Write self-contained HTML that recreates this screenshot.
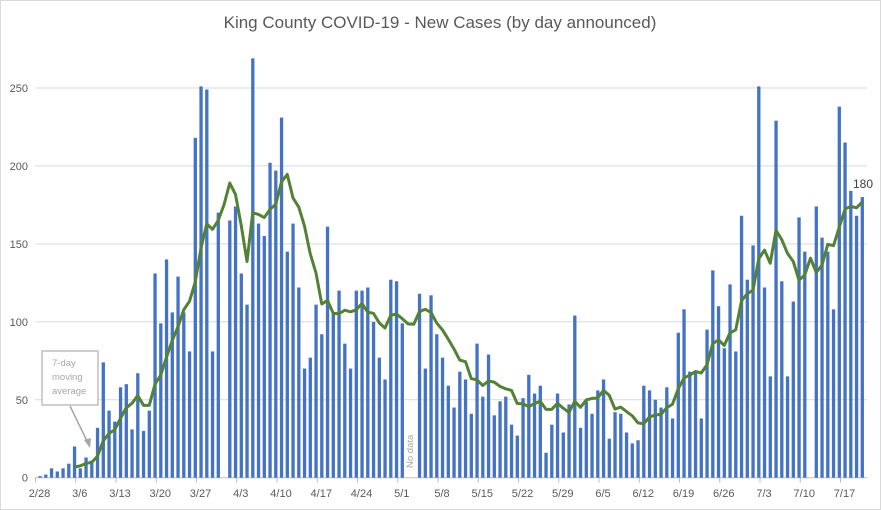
<!DOCTYPE html>
<html><head><meta charset="utf-8"><style>
body{margin:0;background:#fff;}
svg{display:block;font-family:"Liberation Sans",sans-serif;}
</style></head><body>
<svg id="c" width="881" height="510" xmlns="http://www.w3.org/2000/svg">
<rect x="0.5" y="0.5" width="880" height="509" fill="#fff" stroke="#d9d9d9"/>
<text x="440" y="28" text-anchor="middle" font-size="17" fill="#595959">King County COVID-19 - New Cases (by day announced)</text>
<g id="grid"></g>
<g id="bars"></g>
<g id="lbl"></g>
<rect x="42" y="351" width="56" height="54" fill="#fff" stroke="#bfbfbf" stroke-width="1.5"/>
<text font-size="9.5" fill="#a6a6a6"><tspan x="52" y="366">7-day</tspan><tspan x="52" y="380">moving</tspan><tspan x="52" y="394">average</tspan></text>
<line x1="70" y1="406" x2="88" y2="443" stroke="#a6a6a6" stroke-width="1.5"/>
<polygon points="90,448 84,440 91,438" fill="#a6a6a6"/>
<text transform="translate(413,468) rotate(-90)" font-size="9.5" fill="#a6a6a6">No data</text>
<text x="853" y="188" font-size="12" fill="#404040">180</text>
</svg>
<script>
var v=[1,2,6,4,6,9,20,6,13,11,32,74,43,36,58,60,31,67,30,43,131,99,140,106,129,106,81,218,251,249,81,170,null,165,174,131,111,269,163,155,202,197,231,145,163,122,70,77,111,92,161,105,120,86,70,120,120,122,100,77,63,127,126,99,null,null,118,70,117,92,77,59,45,68,63,41,86,52,79,40,49,52,34,27,51,66,54,59,16,34,54,29,47,104,32,49,41,56,63,25,42,41,29,22,24,59,56,50,45,58,38,93,108,68,67,38,95,133,110,83,124,81,168,127,149,251,122,65,229,126,65,113,167,145,null,174,154,145,108,238,215,184,168,180];
var NS="http://www.w3.org/2000/svg";
function el(t,a,p){var e=document.createElementNS(NS,t);for(var k in a)e.setAttribute(k,a[k]);document.getElementById(p).appendChild(e);return e;}
var y0=477.7,s=1.559,x0=40,st=5.75;
for(var i=0;i<=5;i++){var y=y0-i*50*s;el("line",{x1:35,x2:867,y1:y,y2:y,stroke:i==0?"#bfbfbf":"#d9d9d9","stroke-width":1},"grid");
var t=el("text",{x:28,y:y+4,"text-anchor":"end","font-size":11,fill:"#595959"},"lbl");t.textContent=i*50;}
var labs=["2/28","3/6","3/13","3/20","3/27","4/3","4/10","4/17","4/24","5/1","5/8","5/15","5/22","5/29","6/5","6/12","6/19","6/26","7/3","7/10","7/17"];
for(var k=0;k<labs.length;k++){var x=35.5+k*40.25;el("line",{x1:x,x2:x,y1:y0,y2:y0+5,stroke:"#bfbfbf"},"grid");
var t=el("text",{x:x+4,y:497,"text-anchor":"middle","font-size":11,fill:"#595959"},"lbl");t.textContent=labs[k];}
var pts=[];
for(var d=0;d<v.length;d++){var x=x0+d*st;if(v[d]!=null){var h=v[d]*s;el("rect",{x:x-1.6,y:y0-h,width:3.3,height:h,fill:"#4472c4"},"bars");}
if(d>=6){var sum=0,n=0;for(var j=d-6;j<=d;j++)if(v[j]!=null){sum+=v[j];n++;}pts.push(x+","+(y0-sum/n*s));}}
el("polyline",{points:pts.join(" "),fill:"none",stroke:"#548235","stroke-width":3,"stroke-linejoin":"round"},"bars");
</script>
</body></html>
